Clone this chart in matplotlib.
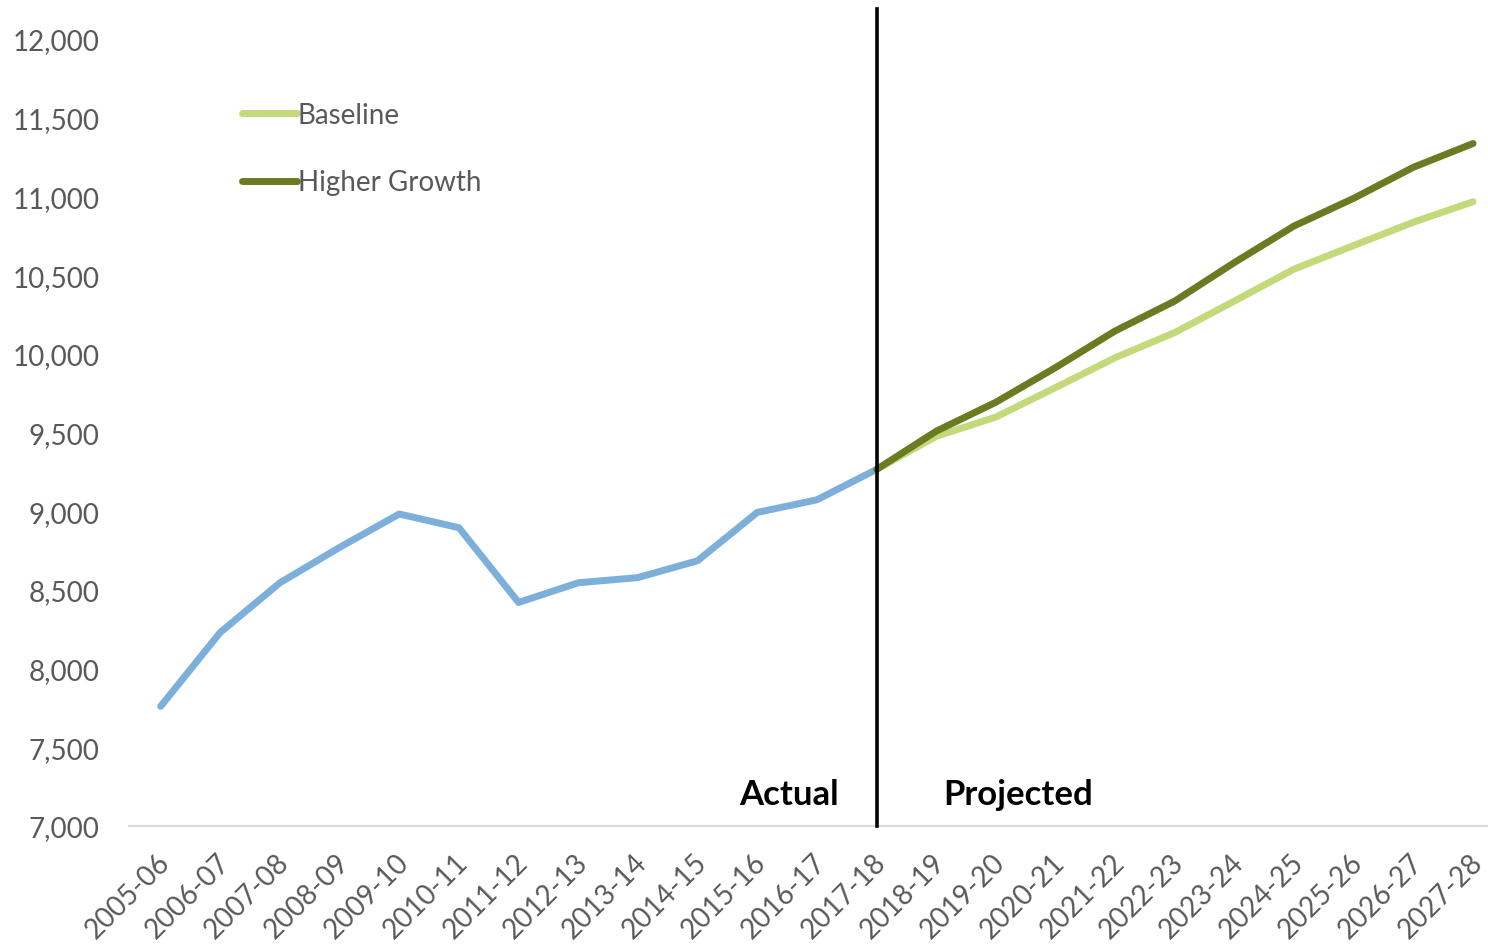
import matplotlib
matplotlib.use("Agg")
import matplotlib.pyplot as plt
import matplotlib.transforms as mtransforms
from matplotlib.ticker import FuncFormatter

plt.rcParams['font.family'] = ['Lato', 'DejaVu Sans']

years = ['2005-06', '2006-07', '2007-08', '2008-09', '2009-10', '2010-11', '2011-12',
         '2012-13', '2013-14', '2014-15', '2015-16', '2016-17', '2017-18', '2018-19',
         '2019-20', '2020-21', '2021-22', '2022-23', '2023-24', '2024-25', '2025-26',
         '2026-27', '2027-28']

# actual values up to 2017-18
actual = [7760, 8230, 8545, 8770, 8982, 8895, 8420, 8545, 8578, 8685, 8992, 9072, 9265]

# projections start from the last actual year (2017-18)
baseline = [9265, 9475, 9598, 9785, 9975, 10135, 10335, 10538, 10688, 10836, 10966]
higher_growth = [9265, 9508, 9692, 9912, 10145, 10335, 10580, 10812, 10988, 11185, 11336]

split_year = 12  # index of 2017-18

fig = plt.figure(figsize=(14.88, 9.45), dpi=100)
ax = fig.add_axes([0.0867, 0.1249, 0.9133, 0.8328])

x_act = list(range(len(actual)))
x_proj = list(range(split_year, split_year + len(baseline)))

ax.plot(x_act, actual, color='#7DAFDB', lw=5, solid_capstyle='round', solid_joinstyle='round')
ax.plot(x_proj, baseline, color='#C4D97A', lw=5, solid_capstyle='round', label='Baseline')
ax.plot(x_proj, higher_growth, color='#6A7B22', lw=5, solid_capstyle='round', label='Higher Growth')

# divider between actual and projected
ax.plot([split_year, split_year], [7000, 12190], color='black', lw=2.6, clip_on=False, zorder=5)
ax.annotate('Actual', xy=(split_year, 7203), xytext=(-27, 0), textcoords='offset points',
            ha='right', va='center', fontsize=25, fontweight='bold', color='black')
ax.annotate('Projected', xy=(split_year, 7203), xytext=(48, 0), textcoords='offset points',
            ha='left', va='center', fontsize=25, fontweight='bold', color='black')

ax.set_xlim(-0.53, 22.25)
ax.set_ylim(7000, 12000)
ax.set_yticks(range(7000, 12001, 500))
ax.yaxis.set_major_formatter(FuncFormatter(lambda v, p: f'{int(v):,}'))
ax.set_xticks(range(len(years)))
ax.set_xticklabels(years, rotation=45, ha='right', va='center', rotation_mode='anchor')

for s in ['top', 'right', 'left']:
    ax.spines[s].set_visible(False)
ax.spines['bottom'].set_color('#D9D9D9')
ax.spines['bottom'].set_linewidth(1.5)
ax.tick_params(axis='both', length=0, labelsize=20, labelcolor='#595959')
ax.tick_params(axis='y', pad=21)
ax.tick_params(axis='x', pad=23)

shift = mtransforms.ScaledTranslation(5 / 100, 0, fig.dpi_scale_trans)
for lbl in ax.get_xticklabels():
    lbl.set_transform(lbl.get_transform() + shift)

leg = ax.legend(loc='upper left', bbox_to_anchor=(0.065, 0.952), frameon=False, fontsize=20,
                handlelength=1.95, handletextpad=0.05, labelspacing=1.5)
for t in leg.get_texts():
    t.set_color('#595959')

fig.savefig('out.png', dpi=100)
